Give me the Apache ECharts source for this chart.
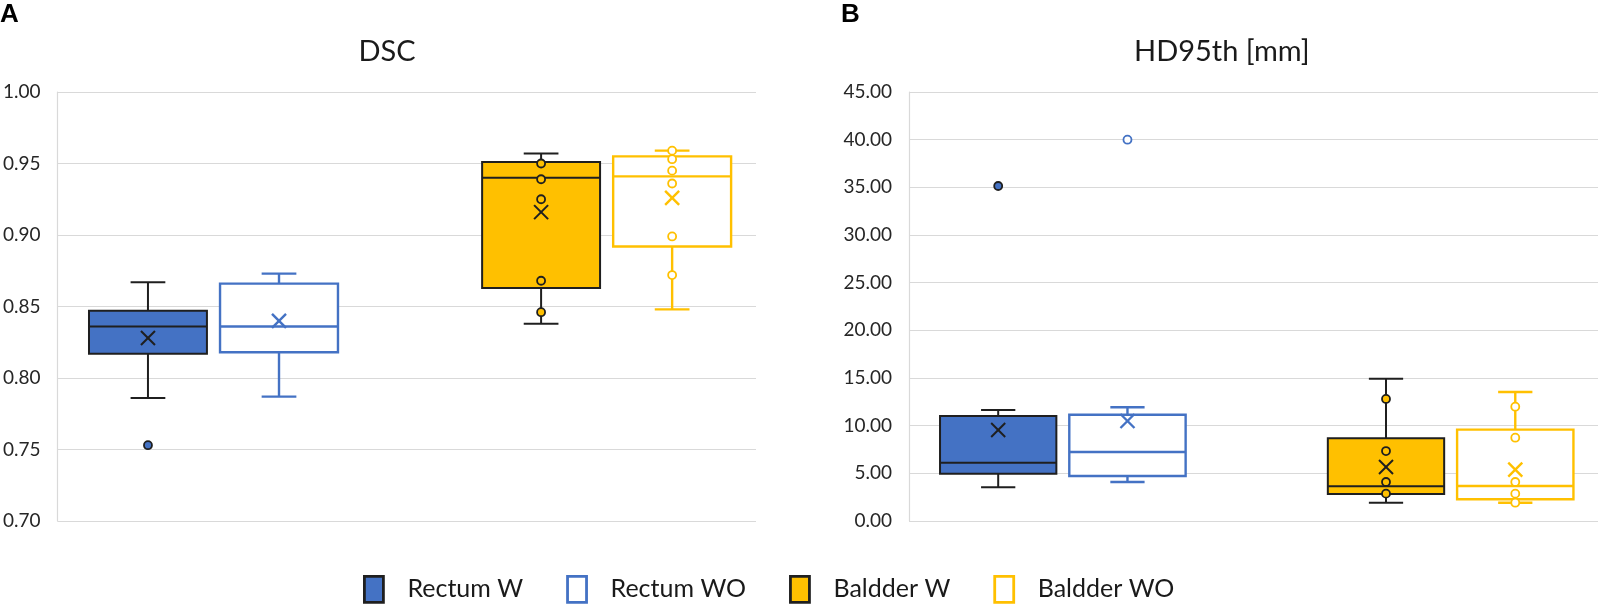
<!DOCTYPE html>
<html>
<head>
<meta charset="utf-8">
<script src="https://cdn.jsdelivr.net/npm/echarts@6/dist/echarts.min.js"></script>
<style>
html,body{margin:0;padding:0;background:#fff;}
#chart{width:1614px;height:607px;}
</style>
</head>
<body>
<div id="chart"></div>
<script>
// ---------- data ----------
const seriesNames = ['Rectum W', 'Rectum WO', 'Baldder W', 'Baldder WO'];
const panelTitles = ['DSC', 'HD95th [mm]'];
const panelLetters = ['A', 'B'];

// [min whisker, Q1, median, Q3, max whisker] per series
const dscBoxes = [
  [0.786, 0.817, 0.836, 0.847, 0.867],
  [0.787, 0.818, 0.836, 0.866, 0.873],
  [0.838, 0.863, 0.940, 0.951, 0.957],
  [0.848, 0.892, 0.941, 0.955, 0.959]
];
const dscMeans = [0.828, 0.840, 0.916, 0.926];
const dscPoints = [
  [0.753],
  [],
  [0.950, 0.939, 0.925, 0.868, 0.846],
  [0.959, 0.953, 0.945, 0.936, 0.899, 0.872]
];
const dscTicks = ['0.70', '0.75', '0.80', '0.85', '0.90', '0.95', '1.00'];

const hdBoxes = [
  [3.53, 4.95, 6.12, 11.01, 11.64],
  [4.09, 4.72, 7.24, 11.15, 11.93],
  [1.92, 2.83, 3.64, 8.67, 14.93],
  [1.92, 2.28, 3.67, 9.58, 13.53]
];
const hdMeans = [9.55, 10.49, 5.66, 5.38];
const hdPoints = [
  [35.14],
  [40.00],
  [12.80, 7.34, 4.09, 2.87],
  [11.99, 8.74, 4.09, 2.87, 1.92]
];
const hdTicks = ['0.00', '5.00', '10.00', '15.00', '20.00', '25.00', '30.00', '35.00', '40.00', '45.00'];

// ---------- styles ----------
const BLUE = '#4472C4';
const GOLD = '#FFC000';
const INK = '#1f1f1f';
const styles = [
  {fill: BLUE, line: INK, lw: 2, pointFill: BLUE, pointLine: INK},
  {fill: '#ffffff', line: BLUE, lw: 2.4, pointFill: '#ffffff', pointLine: BLUE},
  {fill: GOLD, line: INK, lw: 2, pointFill: GOLD, pointLine: INK},
  {fill: '#ffffff', line: GOLD, lw: 2.4, pointFill: '#ffffff', pointLine: GOLD}
];
const slotOf = i => (i < 2 ? i + 1 : i + 2);
const FONT = 'Lato';

function boxSeries(panel, boxes, means, i) {
  const s = styles[i];
  return {
    type: 'custom',
    name: seriesNames[i],
    xAxisIndex: panel,
    yAxisIndex: panel,
    z: 2,
    itemStyle: {color: s.fill, borderColor: s.line},
    encode: {x: 0, y: [1, 2, 3, 4, 5, 6]},
    data: [[slotOf(i)].concat(boxes[i], [means[i]])],
    renderItem: function (params, api) {
      const x = api.value(0);
      const cx = api.coord([x, 0])[0];
      const yOf = v => api.coord([x, v])[1];
      const yMin = yOf(api.value(1)), yQ1 = yOf(api.value(2)), yMed = yOf(api.value(3));
      const yQ3 = yOf(api.value(4)), yMax = yOf(api.value(5)), yMean = yOf(api.value(6));
      const bw = api.size([0.9, 0])[0];
      const cw = api.size([0.265, 0])[0];
      const lineStyle = {stroke: s.line, lineWidth: s.lw, fill: null};
      const m = 7;
      return {
        type: 'group',
        children: [
          {type: 'line', shape: {x1: cx, y1: yQ3, x2: cx, y2: yMax}, style: lineStyle},
          {type: 'line', shape: {x1: cx - cw / 2, y1: yMax, x2: cx + cw / 2, y2: yMax}, style: lineStyle},
          {type: 'line', shape: {x1: cx, y1: yQ1, x2: cx, y2: yMin}, style: lineStyle},
          {type: 'line', shape: {x1: cx - cw / 2, y1: yMin, x2: cx + cw / 2, y2: yMin}, style: lineStyle},
          {type: 'rect', shape: {x: cx - bw / 2, y: yQ3, width: bw, height: yQ1 - yQ3},
            style: {fill: s.fill, stroke: s.line, lineWidth: s.lw}},
          {type: 'line', shape: {x1: cx - bw / 2, y1: yMed, x2: cx + bw / 2, y2: yMed}, style: lineStyle},
          {type: 'line', shape: {x1: cx - m, y1: yMean - m, x2: cx + m, y2: yMean + m}, style: lineStyle},
          {type: 'line', shape: {x1: cx - m, y1: yMean + m, x2: cx + m, y2: yMean - m}, style: lineStyle}
        ]
      };
    }
  };
}

function pointSeries(panel, points, i) {
  const s = styles[i];
  return {
    type: 'scatter',
    name: seriesNames[i],
    xAxisIndex: panel,
    yAxisIndex: panel,
    z: 3,
    symbol: 'circle',
    symbolSize: 8,
    itemStyle: {color: s.pointFill, borderColor: s.pointLine, borderWidth: 1.8, opacity: 1},
    data: points[i].map(v => [slotOf(i), v])
  };
}

function yAxisFor(panel, ticks) {
  const vals = ticks.map(Number);
  const step = Math.round((vals[1] - vals[0]) * 1e6) / 1e6;
  return {
    type: 'value',
    gridIndex: panel,
    min: vals[0],
    max: vals[vals.length - 1],
    interval: step,
    axisLine: {show: true, lineStyle: {color: '#d9d9d9', width: 1.2}},
    axisTick: {show: false},
    splitLine: {show: true, lineStyle: {color: '#d9d9d9', width: 1.2}},
    axisLabel: {
      margin: 17,
      color: '#262626',
      fontFamily: FONT,
      fontSize: 19,
      formatter: v => ticks[Math.round((v - vals[0]) / step)]
    }
  };
}

function xAxisFor(panel) {
  return {
    type: 'value', gridIndex: panel, min: 0.31, max: 5.64,
    show: false, axisLine: {show: false}, splitLine: {show: false}
  };
}

const series = [];
for (let i = 0; i < seriesNames.length; i++) {
  series.push(boxSeries(0, dscBoxes, dscMeans, i));
  series.push(boxSeries(1, hdBoxes, hdMeans, i));
}
for (let i = 0; i < seriesNames.length; i++) {
  series.push(pointSeries(0, dscPoints, i));
  series.push(pointSeries(1, hdPoints, i));
}

const chart = echarts.init(document.getElementById('chart'), null, {renderer: 'canvas'});
chart.setOption({
  animation: false,
  backgroundColor: '#ffffff',
  grid: [
    {left: 55, top: 92, width: 701, height: 429},
    {left: 909, top: 92, width: 689, height: 429}
  ],
  xAxis: [xAxisFor(0), xAxisFor(1)],
  yAxis: [yAxisFor(0, dscTicks), yAxisFor(1, hdTicks)],
  legend: {
    left: 363,
    top: 575,
    padding: 0,
    itemGap: 43,
    itemWidth: 19,
    itemHeight: 26,
    icon: 'rect',
    selectedMode: true,
    textStyle: {fontFamily: FONT, fontSize: 25, color: '#1a1a1a', padding: [0, 0, 0, 19]},
    data: seriesNames.map((n, i) => ({
      name: n,
      itemStyle: {color: styles[i].fill, borderColor: styles[i].line, borderWidth: 2.8}
    }))
  },
  graphic: [
    {type: 'text', x: 0, y: 15, style: {text: panelLetters[0], fontFamily: 'Liberation Sans', fontWeight: 'bold', fontSize: 26, fill: '#000', textVerticalAlign: 'middle'}},
    {type: 'text', x: 841, y: 15, style: {text: panelLetters[1], fontFamily: 'Liberation Sans', fontWeight: 'bold', fontSize: 26, fill: '#000', textVerticalAlign: 'middle'}},
    {type: 'text', x: 387, y: 52, style: {text: panelTitles[0], fontFamily: FONT, fontSize: 29, fill: '#1a1a1a', textAlign: 'center', textVerticalAlign: 'middle'}},
    {type: 'text', x: 1134, y: 52, style: {text: panelTitles[1], fontFamily: FONT, fontSize: 29, fill: '#1a1a1a', textAlign: 'left', textVerticalAlign: 'middle'}}
  ],
  series: series
});
</script>
</body>
</html>
